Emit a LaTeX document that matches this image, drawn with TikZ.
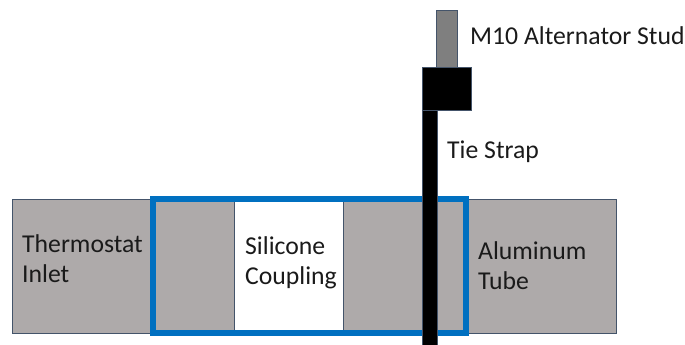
\documentclass[tikz,border=0pt]{standalone}
\usepackage{fontspec}
\setmainfont{Carlito}
\definecolor{tubegray}{HTML}{AEAAAA}
\definecolor{edgeblue}{HTML}{44546A}
\definecolor{clampblue}{HTML}{0070C0}
\definecolor{studgray}{HTML}{7F7F7F}
\definecolor{labelink}{HTML}{1A1A1A}
\tikzset{
  x=1pt,y=-1pt,
  part/.style={draw=edgeblue,line width=0.8pt,anchor=north west,inner sep=0pt,outer sep=0pt},
  tubepart/.style={part,fill=tubegray},
  label text/.style={anchor=base west,inner sep=0pt,text=labelink,font=\fontsize{25.7}{25.7}\selectfont},
}
\begin{document}
\begin{tikzpicture}
\useasboundingbox (0,0) rectangle (685,345);
\node[tubepart,minimum width=222pt,minimum height=134pt] (inlet) at (12,199) {};
\node[part,fill=white,minimum width=109pt,minimum height=134pt] (coupling) at (234,199) {};
\node[tubepart,minimum width=273pt,minimum height=134pt] (tube) at (343,199) {};
\node[draw=clampblue,line width=6pt,anchor=north west,inner sep=0pt,outer sep=0pt,minimum width=313pt,minimum height=134pt] (clamp) at (153,199) {};
\node[part,fill=studgray,minimum width=21pt,minimum height=57pt] (stud) at (436,10) {};
\node[part,fill=black,minimum width=15pt,minimum height=236pt] (strap) at (422,109) {};
\node[part,fill=black,minimum width=49pt,minimum height=43pt] (nut) at (422,67) {};
\node[label text] (thermo) at (22,252) {Thermostat};
\node[label text] (inlettext) at (22,282) {Inlet};
\node[label text] (sil) at (245,254) {Silicone};
\node[label text] (coup) at (245,284) {Coupling};
\node[label text] (alu) at (478,259) {Aluminum};
\node[label text] (tubetext) at (478,289) {Tube};
\node[label text] (m10) at (470,45) {M10 Alternator Stud};
\node[label text] (tie) at (447,158) {Tie Strap};
\end{tikzpicture}
\end{document}
